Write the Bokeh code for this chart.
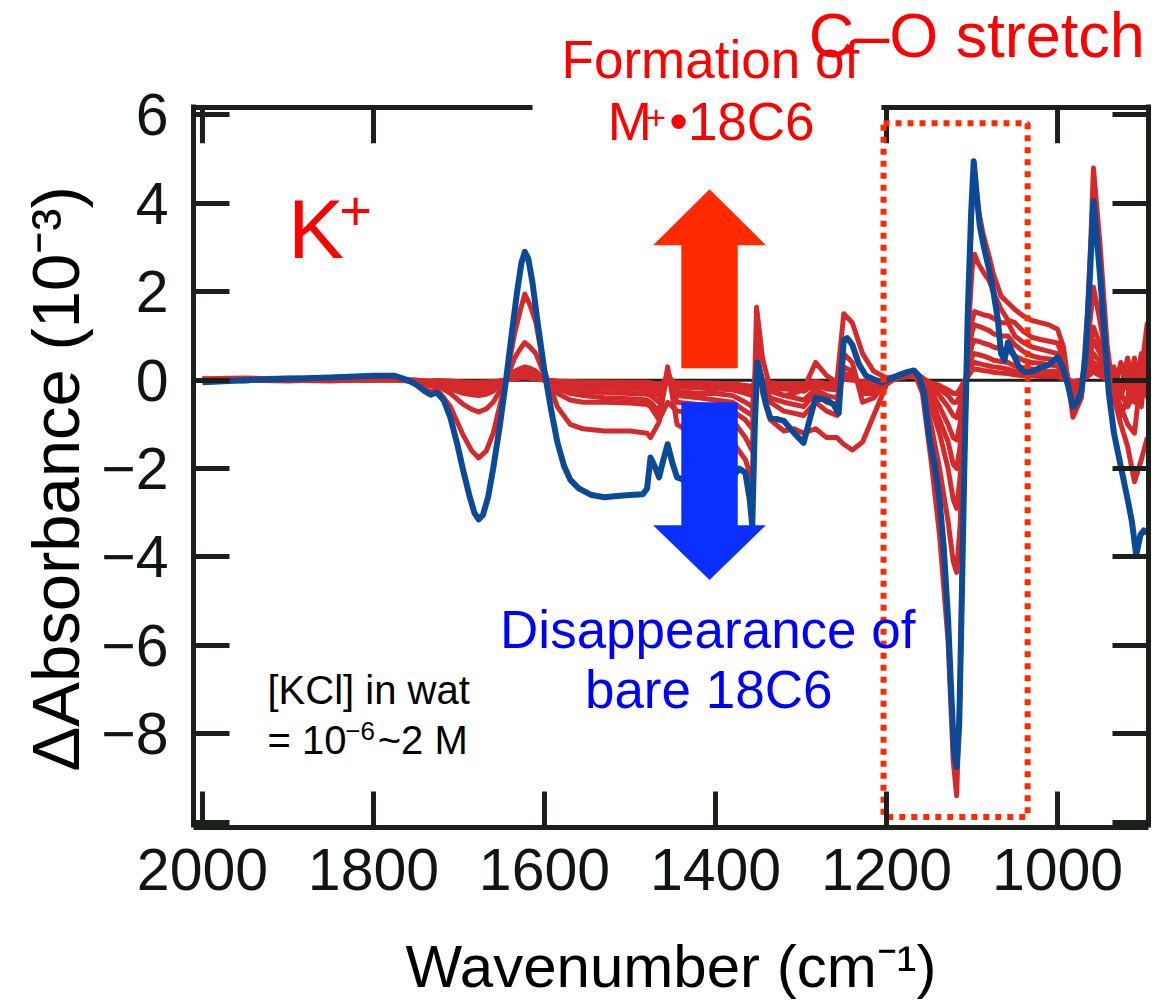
from bokeh.plotting import figure
from bokeh.models import Range1d, FixedTicker, LinearAxis, Label, Span, Title
from bokeh.embed import file_html
from bokeh.resources import INLINE

# ---------------- data ----------------
# most concentrated spectrum (blue), (wavenumber, dAbs x1e3)
blue_points = [
    (2000, -0.05), (1950, 0.00), (1900, 0.03), (1850, 0.06), (1800, 0.10),
    (1775, 0.10), (1760, 0.00), (1750, -0.10), (1740, -0.25), (1733, -0.33),
    (1726, -0.28), (1718, -0.45), (1710, -0.85), (1702, -1.45), (1695, -2.05),
    (1688, -2.60), (1682, -3.00), (1677, -3.15), (1672, -3.05), (1666, -2.65),
    (1660, -2.00), (1652, -1.00), (1645, 0.00), (1638, 1.10), (1632, 2.00),
    (1627, 2.65), (1623, 2.90), (1619, 2.75), (1614, 2.20), (1608, 1.30),
    (1600, 0.20), (1592, -0.70), (1585, -1.40), (1577, -1.95), (1570, -2.25),
    (1560, -2.45), (1545, -2.60), (1530, -2.65), (1515, -2.62), (1500, -2.60),
    (1485, -2.58), (1480, -2.45), (1476, -1.75), (1471, -1.95), (1466, -2.20),
    (1461, -1.80), (1456, -1.45), (1450, -1.90), (1445, -2.20), (1430, -2.30),
    (1415, -2.35), (1400, -2.35), (1385, -2.30), (1372, -2.00), (1365, -2.10),
    (1360, -2.70), (1357, -3.30), (1354, -1.00), (1351, 0.40), (1347, 0.10),
    (1341, -0.55), (1336, -0.85), (1328, -0.88), (1320, -0.92), (1308, -1.20),
    (1297, -1.42), (1290, -0.90), (1283, -0.40), (1270, -0.45), (1262, -0.55),
    (1256, -0.75), (1250, 0.90), (1246, 0.95), (1240, 0.80), (1232, 0.35),
    (1224, 0.10), (1215, 0.02), (1205, -0.05), (1195, 0.03), (1185, 0.12),
    (1176, 0.18), (1168, 0.22), (1162, 0.10), (1156, -0.30), (1150, -1.30),
    (1144, -1.90), (1138, -2.70), (1133, -3.80), (1128, -5.40), (1124, -7.20),
    (1121, -8.40), (1118, -8.75), (1115, -7.80), (1112, -5.00), (1109, -2.00),
    (1105, 1.50), (1101, 3.80), (1098, 4.95), (1095, 4.30), (1091, 3.50),
    (1086, 3.00), (1080, 2.50), (1075, 2.00), (1070, 1.40), (1066, 0.60),
    (1062, 0.45), (1058, 0.85), (1052, 0.60), (1045, 0.30), (1038, 0.18),
    (1030, 0.20), (1020, 0.28), (1010, 0.35), (1000, 0.52), (994, 0.30),
    (988, -0.10), (982, -0.60), (977, -0.50), (972, -0.25), (967, 0.60),
    (962, 2.40), (958, 4.05), (954, 3.20), (950, 2.30), (945, 1.00),
    (940, -0.30), (934, -1.20), (926, -1.95), (918, -2.70), (913, -3.20),
    (908, -3.95), (903, -3.50), (899, -3.40), (895, -3.45),
]

# lower-concentration spectra (red), shared wavenumber grid
wn_red = [2000, 1950, 1900, 1850, 1800, 1770, 1750, 1735, 1725, 1710,
          1695, 1685, 1677, 1668, 1660, 1645, 1635, 1628, 1623, 1617,
          1610, 1600, 1585, 1570, 1555, 1530, 1500, 1480, 1476, 1466,
          1456, 1445, 1420, 1400, 1380, 1365, 1357, 1352, 1345, 1336,
          1320, 1308, 1297, 1283, 1270, 1258, 1250, 1240, 1228, 1215,
          1200, 1185, 1168, 1158, 1148, 1138, 1128, 1122, 1118, 1114,
          1110, 1104, 1100, 1097, 1093, 1087, 1080, 1075, 1066, 1058,
          1050, 1040, 1030, 1020, 1010, 1000, 993, 982, 972, 965,
          961, 958, 954, 950, 942, 934, 926, 918, 910, 902,
          895]

red_1 = [0.03, 0.05, 0.02, 0.06, 0.08, 0.05, -0.05, -0.25, -0.22, -0.60,
         -1.25, -1.60, -1.76, -1.60, -1.20, 0.00, 1.05, 1.60, 1.95, 1.70,
         1.30, 0.20, -0.60, -1.00, -1.10, -1.15, -1.15, -1.20, -1.30, -0.95,
         0.30, -1.00, -1.30, -1.35, -1.40, -1.80, -2.30, 1.65, 0.50, -0.20,
         -0.35, -0.30, -0.20, 0.40, 0.10, -0.05, 1.50, 1.30, 0.60, 0.20,
         0.05, 0.10, 0.20, -0.30, -1.80, -3.50, -5.90, -8.60, -9.40, -7.00,
         -2.50, 1.80, 3.90, 4.60, 3.90, 3.30, 2.80, 2.40, 1.90, 1.75,
         1.60, 1.45, 1.35, 1.30, 1.25, 1.15, 0.75, -0.84, -0.40, 1.50,
         3.20, 4.80, 3.90, 3.00, 0.80, -0.40, -1.00, -1.50, -2.30, -1.80,
         -1.30]

red_2 = [0.00, 0.03, 0.05, 0.02, 0.05, 0.03, -0.05, -0.12, -0.12, -0.30,
         -0.55, -0.66, -0.72, -0.65, -0.50, 0.00, 0.50, 0.72, 0.85, 0.75,
         0.60, 0.10, -0.30, -0.45, -0.50, -0.50, -0.52, -0.55, -0.60, -0.90,
         -0.50, -0.70, -0.75, -0.80, -0.90, -1.30, -1.60, 0.90, -0.30, -0.90,
         -1.15, -1.10, -1.20, -1.10, -1.30, -1.30, -1.45, -1.58, -1.40, -0.80,
         -0.10, 0.10, 0.15, -0.20, -1.00, -2.00, -3.20, -4.10, -4.35, -3.30,
         -1.20, 1.20, 2.50, 2.85, 2.65, 2.45, 2.25, 2.00, 1.60, 1.36,
         1.30, 1.10, 0.97, 0.92, 0.88, 0.84, 0.50, -0.50, -0.20, 0.80,
         1.50, 2.10, 1.70, 1.30, 0.40, -0.20, -0.60, -1.00, -1.20, 0.20,
         1.30]

red_3 = [0.02, -0.02, 0.04, 0.00, 0.03, 0.00, -0.05, -0.10, -0.10, -0.20,
         -0.30, -0.33, -0.35, -0.32, -0.25, 0.00, 0.20, 0.26, 0.30, 0.27,
         0.20, 0.00, -0.20, -0.30, -0.35, -0.40, -0.42, -0.45, -0.50, -0.70,
         0.10, -0.50, -0.55, -0.60, -0.70, -0.90, -1.10, 0.50, 0.00, -0.50,
         -0.70, -0.75, -0.80, -0.50, -0.70, -0.80, 0.60, 0.40, -0.50, -0.40,
         -0.05, 0.10, 0.12, -0.10, -0.60, -1.20, -2.00, -2.70, -2.90, -2.20,
         -0.80, 0.70, 1.35, 1.55, 1.52, 1.48, 1.45, 1.40, 1.30, 1.30,
         1.00, 0.85, 0.75, 0.70, 0.65, 0.60, 0.35, -0.30, -0.10, 0.50,
         0.85, 1.20, 1.00, 0.80, 0.30, 0.10, -0.30, -0.60, -0.30, 0.60,
         0.30]

red_4 = [-0.02, 0.02, 0.00, 0.03, 0.00, 0.02, -0.03, -0.08, -0.08, -0.15,
         -0.22, -0.24, -0.25, -0.23, -0.18, 0.00, 0.15, 0.22, 0.25, 0.20,
         0.15, 0.00, -0.12, -0.20, -0.25, -0.28, -0.30, -0.32, -0.35, -0.50,
         0.20, -0.35, -0.40, -0.45, -0.50, -0.70, -0.80, 0.30, -0.10, -0.40,
         -0.50, -0.55, -0.60, -0.30, -0.50, -0.55, 0.30, 0.20, -0.30, -0.30,
         0.00, 0.12, 0.15, 0.00, -0.40, -0.90, -1.40, -1.90, -2.00, -1.50,
         -0.50, 0.55, 1.10, 1.25, 1.22, 1.18, 1.12, 1.05, 1.00, 1.00,
         0.80, 0.65, 0.55, 0.50, 0.48, 0.45, 0.25, -0.20, 0.00, 0.40,
         0.65, 0.90, 0.75, 0.60, 0.20, -0.20, -0.80, -0.40, 0.50, -0.60,
         0.80]

red_5 = [0.00, 0.00, -0.02, 0.02, 0.02, 0.00, -0.02, -0.06, -0.05, -0.10,
         -0.16, -0.19, -0.20, -0.18, -0.12, 0.00, 0.12, 0.17, 0.20, 0.15,
         0.10, 0.00, -0.08, -0.12, -0.15, -0.18, -0.20, -0.22, -0.25, -0.35,
         0.00, -0.25, -0.30, -0.30, -0.35, -0.50, -0.60, 0.20, 0.00, -0.25,
         -0.35, -0.40, -0.45, -0.20, -0.35, -0.40, 0.15, 0.10, -0.20, -0.20,
         0.00, 0.10, 0.18, 0.05, -0.25, -0.60, -1.00, -1.30, -1.35, -1.00,
         -0.30, 0.40, 0.80, 0.90, 0.88, 0.84, 0.80, 0.75, 0.70, 0.68,
         0.55, 0.45, 0.40, 0.38, 0.35, 0.32, 0.15, -0.15, 0.00, 0.30,
         0.45, 0.60, 0.50, 0.40, 0.10, 0.30, -0.40, 0.20, -0.30, 0.50,
         -0.20]

red_6 = [0.02, 0.00, 0.00, -0.02, 0.02, 0.00, 0.00, -0.04, -0.04, -0.06,
         -0.10, -0.11, -0.12, -0.11, -0.08, 0.00, 0.08, 0.12, 0.15, 0.11,
         0.08, 0.00, -0.05, -0.08, -0.10, -0.10, -0.12, -0.13, -0.15, -0.25,
         0.10, -0.15, -0.18, -0.20, -0.22, -0.30, -0.35, 0.10, 0.00, -0.15,
         -0.20, -0.22, -0.25, -0.10, -0.20, -0.22, 0.10, 0.05, -0.10, -0.10,
         0.00, 0.08, 0.15, 0.05, -0.15, -0.35, -0.60, -0.80, -0.85, -0.60,
         -0.20, 0.25, 0.52, 0.60, 0.58, 0.55, 0.50, 0.45, 0.42, 0.40,
         0.32, 0.28, 0.25, 0.22, 0.20, 0.20, 0.10, -0.10, 0.00, 0.20,
         0.30, 0.40, 0.33, 0.25, 0.05, -0.10, 0.30, -0.20, 0.40, -0.30,
         0.20]

red_7 = [0.00, 0.02, 0.00, 0.00, 0.00, 0.02, 0.00, -0.03, -0.02, -0.04,
         -0.06, -0.07, -0.08, -0.07, -0.05, 0.00, 0.05, 0.08, 0.10, 0.07,
         0.05, 0.00, -0.03, -0.05, -0.06, -0.07, -0.08, -0.08, -0.10, -0.15,
         0.05, -0.10, -0.10, -0.12, -0.14, -0.20, -0.22, 0.05, 0.00, -0.10,
         -0.12, -0.14, -0.15, -0.05, -0.12, -0.14, 0.05, 0.02, -0.06, -0.05,
         0.00, 0.06, 0.12, 0.05, -0.10, -0.20, -0.35, -0.50, -0.50, -0.35,
         -0.10, 0.15, 0.34, 0.40, 0.38, 0.35, 0.32, 0.30, 0.28, 0.25,
         0.20, 0.18, 0.15, 0.14, 0.12, 0.12, 0.05, -0.05, 0.00, 0.12,
         0.22, 0.30, 0.22, 0.15, 0.00, 0.20, -0.20, 0.50, -0.10, 0.30,
         0.60]

red_8 = [0.01, 0.00, 0.01, 0.00, 0.01, 0.00, 0.00, -0.02, -0.01, -0.02,
         -0.04, -0.05, -0.05, -0.04, -0.03, 0.00, 0.03, 0.05, 0.06, 0.04,
         0.03, 0.00, -0.02, -0.03, -0.04, -0.04, -0.05, -0.05, -0.06, -0.10,
         0.00, -0.06, -0.06, -0.07, -0.08, -0.12, -0.14, 0.03, 0.00, -0.06,
         -0.08, -0.08, -0.10, -0.03, -0.08, -0.08, 0.02, 0.00, -0.04, -0.03,
         0.00, 0.05, 0.10, 0.04, -0.06, -0.12, -0.22, -0.30, -0.30, -0.20,
         -0.05, 0.10, 0.22, 0.25, 0.24, 0.22, 0.20, 0.18, 0.16, 0.15,
         0.12, 0.10, 0.10, 0.08, 0.08, 0.08, 0.03, -0.03, 0.00, 0.08,
         0.14, 0.20, 0.14, 0.10, 0.00, -0.30, 0.40, 0.00, -0.50, 0.10,
         -0.40]

red_series = [red_8, red_7, red_6, red_5, red_4, red_3, red_2, red_1]

x_ticks = [2000, 1800, 1600, 1400, 1200, 1000]
y_ticks = [-10, -8, -6, -4, -2, 0, 2, 4, 6]
y_tick_text = {-10: "", -8: "\u22128", -6: "\u22126", -4: "\u22124", -2: "\u22122",
               0: "0", 2: "2", 4: "4", 6: "6"}

# ---------------- figure ----------------
FONT = "Liberation Sans"
DARK = "#1b201b"
RED_LINE = "#d42a2b"
BLUE_LINE = "#0b4a97"

X_LEFT, X_RIGHT = 2010.5, 893.6
Y_BOTTOM, Y_AXTOP, Y_CANVAS_TOP = -10.12, 6.17, 8.588
TICK_LEN = 0.81  # inward tick length in data units (y)

p = figure(width=1152, height=1002,
           x_range=Range1d(X_LEFT, X_RIGHT), y_range=Range1d(Y_BOTTOM, Y_CANVAS_TOP),
           output_backend="svg", toolbar_location=None,
           min_border_left=193, min_border_right=4,
           min_border_top=0, min_border_bottom=174)
p.grid.visible = False
p.outline_line_color = None
p.background_fill_color = "white"
p.border_fill_color = "white"


def style_axis(ax, ticks, show):
    ax.ticker = FixedTicker(ticks=ticks)
    ax.axis_line_color = DARK
    ax.axis_line_width = 5
    ax.major_tick_in = 36
    ax.major_tick_out = 0
    ax.major_tick_line_width = 5
    ax.major_tick_line_color = DARK
    ax.minor_tick_line_color = None
    ax.major_label_text_font = FONT
    ax.major_label_text_color = "#111511"
    if show:
        ax.major_label_text_font_size = "59px"
    else:
        ax.major_label_text_font_size = "0px"
        ax.major_label_standoff = 0


xa = p.xaxis[0]
style_axis(xa, x_ticks, True)
xa.major_label_standoff = 21
xa.axis_label = "Wavenumber (cm\u207b\u00b9)"
xa.axis_label_text_font = FONT
xa.axis_label_text_font_size = "60px"
xa.axis_label_text_font_style = "normal"
xa.axis_label_text_color = "black"
xa.axis_label_standoff = 40

ya = p.yaxis[0]
style_axis(ya, y_ticks, True)
ya.bounds = (-10.18, 6.23)
ya.major_label_overrides = y_tick_text
ya.major_label_standoff = 25

right_ax = LinearAxis()
style_axis(right_ax, y_ticks, False)
right_ax.bounds = (-10.18, 6.23)
p.add_layout(right_ax, "right")

# y-axis title, starting near the bottom of the axis box
p.add_layout(Title(text="\u0394Absorbance (10\u207b\u00b3)", align="left", offset=56,
                   text_font=FONT, text_font_size="67px", text_font_style="normal",
                   text_color="black", standoff=12), "left")

# zero line
p.add_layout(Span(location=0, dimension="width", line_color=DARK, line_width=3, level="underlay"))

# top frame edge and mirrored ticks
p.segment(x0=[X_LEFT], y0=[Y_AXTOP], x1=[X_RIGHT], y1=[Y_AXTOP],
          line_color=DARK, line_width=5, line_cap="square")
p.segment(x0=x_ticks, y0=[Y_AXTOP] * len(x_ticks), x1=x_ticks,
          y1=[Y_AXTOP - TICK_LEN] * len(x_ticks), line_color=DARK, line_width=5)

# spectra
for s in red_series:
    p.line(wn_red, s, line_color=RED_LINE, line_width=5, line_join="round")
p.line([w for w, _ in blue_points], [a for _, a in blue_points],
       line_color=BLUE_LINE, line_width=6, line_join="round")

# big arrows
cx, sw, hw = 1407, 33, 66
up = dict(y0=0.27, yb=3.05, yt=4.32)
dn = dict(y0=-0.5, yb=-3.28, yt=-4.52)
for a, col in ((up, "#ff2a00"), (dn, "#0b2fff")):
    xs = [cx - sw, cx - sw, cx - hw, cx, cx + hw, cx + sw, cx + sw]
    ys = [a["y0"], a["yb"], a["yb"], a["yt"], a["yb"], a["yb"], a["y0"]]
    p.patch(xs, ys, fill_color=col, line_color=None)

# white box behind the title text (hides part of the top frame)
p.quad(left=[1614], right=[1206], top=[7.0], bottom=[5.2],
       fill_color="white", line_color=None)

# dotted box around C-O stretch
p.quad(left=[1203.5], right=[1035], top=[5.81], bottom=[-9.88],
       fill_color=None, line_color="#ff2a00", line_width=6, line_dash="6 6")


def lab(x, y, text, size, color, align="left"):
    p.add_layout(Label(x=x, y=y, text=text, text_font=FONT, text_font_size=size,
                       text_color=color, text_align=align, text_baseline="alphabetic"))


RED_TXT = "#ff0000"
BLUE_TXT = "#0000ff"
lab(1900, 3.42, "K", "84px", RED_TXT)
lab(1840, 3.83, "+", "56px", RED_TXT)
lab(1406, 7.25, "Formation of", "53px", RED_TXT, "center")
lab(1526, 5.86, "M", "53px", RED_TXT)
lab(1481, 5.94, "+", "34px", RED_TXT)
lab(1454, 5.86, "\u202218C6", "53px", RED_TXT)
lab(1291, 7.80, "C\u2013O stretch", "63px", RED_TXT)
lab(1409, -5.63, "Disappearance of", "53px", BLUE_TXT, "center")
lab(1408, -7.00, "bare 18C6", "53px", BLUE_TXT, "center")
lab(1924, -7.00, "[KCl] in wat", "40px", "black")
lab(1924, -8.13, "= 10", "40px", "black")
lab(1833, -7.93, "\u22126", "26px", "black")
lab(1795, -8.13, "~2 M", "40px", "black")

open("out.html", "w").write(file_html(p, INLINE))
